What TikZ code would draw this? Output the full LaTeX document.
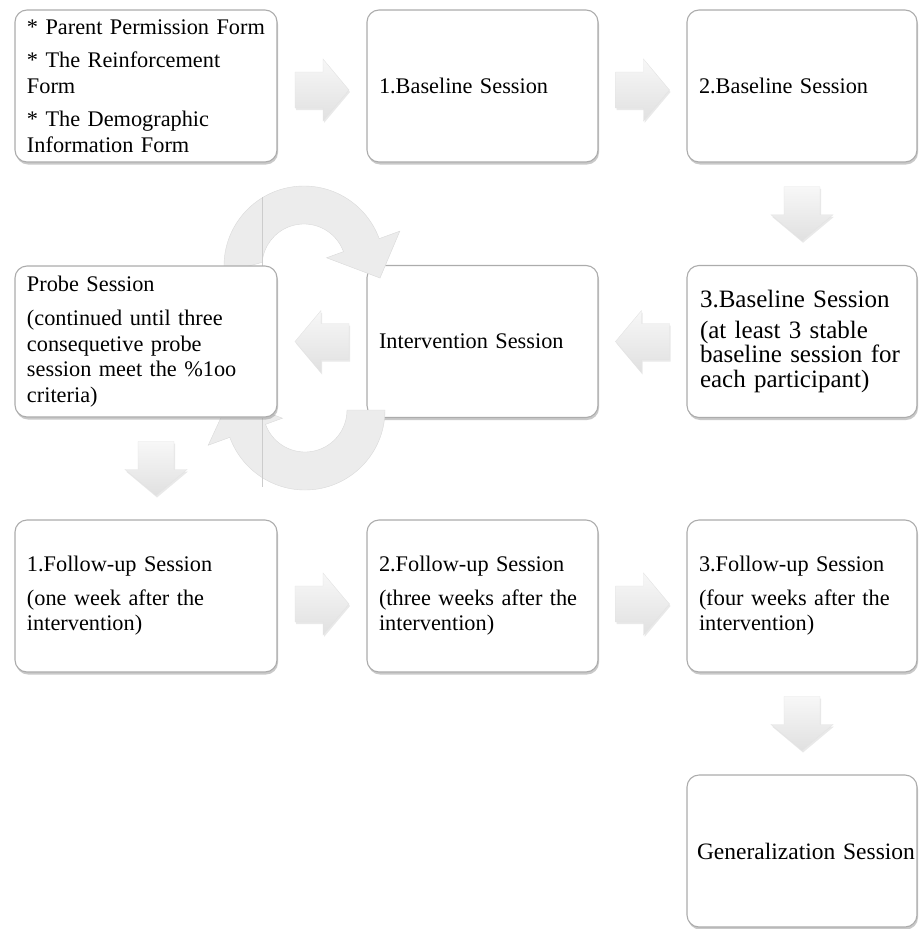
\documentclass[tikz,border=0pt]{standalone}
\usepackage{fontspec}
\setmainfont{Liberation Serif}
\usetikzlibrary{calc,shadows}
\begin{document}
\begin{tikzpicture}[x=1pt,y=-1pt,
  box/.style={draw=gray!65, line width=1.1pt, rounded corners=12pt, fill=white,
    drop shadow={shadow xshift=1pt, shadow yshift=-2.5pt, opacity=0.5, fill=gray!85},
    inner xsep=12pt, inner ysep=0pt, align=left, text=black,
    font=\fontsize{22.3}{25.5}\selectfont},
  lcol/.style={box, text width=238pt, minimum width=262pt},
  mcol/.style={box, text width=207pt, minimum width=231pt},
  rcol/.style={box, text width=206pt, minimum width=230pt},
  rowh/.style={minimum height=152pt},
  arrowfill/.style={top color=gray!6, bottom color=gray!24, draw=gray!22, line width=0.4pt,
    drop shadow={shadow xshift=1pt, shadow yshift=-2pt, opacity=0.25, fill=gray!70}},
  barrow/.pic={\path[arrowfill] (-27,-18) -- (1,-18) -- (1,-31) -- (27,0) -- (1,31) -- (1,18) -- (-27,18) -- cycle;},
  arcfill/.style={fill=gray!15, draw=gray!30, line width=0.4pt},
  seam/.style={draw=gray!40, line width=0.6pt}
]
\useasboundingbox (0,0) rectangle (922,929);

% Row 1
\node[lcol, rowh] (A) at (146,86) {* Parent Permission Form\\[8pt]* The Reinforcement\\Form\\[8pt]* The Demographic\\Information Form};
\node[mcol, rowh] (B1) at (482.5,86) {1.Baseline Session};
\node[rcol, rowh] (B2) at (802,86) {2.Baseline Session};

% Row 2
\node[rcol, rowh, font=\fontsize{25}{24.5}\selectfont, inner xsep=13pt, text width=204pt] (B3) at (802,341.5)
  {3.Baseline Session\\[6pt](at least 3 stable\\baseline session for\\each participant)};
\node[mcol, rowh] (I) at (482.5,341.5) {Intervention Session};

% Row 3
\node[lcol, rowh] (F1) at (146,596) {1.Follow-up Session\\[8pt](one week after the\\intervention)};
\node[mcol, rowh] (F2) at (482.5,596) {2.Follow-up Session\\[8pt](three weeks after the\\intervention)};
\node[rcol, rowh] (F3) at (802,596) {3.Follow-up Session\\[8pt](four weeks after the\\intervention)};

% Row 4
\node[rcol, rowh, font=\fontsize{23.5}{26}\selectfont, inner xsep=10pt, text width=210pt] (G) at (802,851) {\mbox{Generalization Session}};

% circular arrows
\coordinate (T) at (304,266);
\coordinate (Bc) at (305,410);
\path[arcfill] ($(T)+(175:80)$) arc[start angle=175, end angle=340, radius=80]
  -- ($(T)+(340:102)$) -- (380,278) -- ($(T)+(340:24)$) -- ($(T)+(340:42)$)
  arc[start angle=340, end angle=185, radius=42] -- cycle;
\path[arcfill] ($(Bc)+(0:80)$) arc[start angle=0, end angle=160, radius=80]
  -- ($(Bc)+(160:103)$) -- ($(Bc)+(189:76)$) -- ($(Bc)+(160:24)$) -- ($(Bc)+(160:42)$)
  arc[start angle=160, end angle=0, radius=42] -- cycle;
\draw[seam] (262,197) -- (262,266);
\draw[seam] (262,418) -- (262,487);

% Probe box on top of the arcs
\node[lcol, rowh, minimum height=151pt] (P) at (146,341.5) {Probe Session\\[9pt](continued until three\\consequetive probe\\session meet the \%1oo\\criteria)};

% block arrows
\pic at ($($(A.east)!0.5!(B1.west)$)+(0,4)$) {barrow};
\pic at ($($(B1.east)!0.5!(B2.west)$)+(0,4)$) {barrow};
\pic[rotate=-90] at ($(B2.south)!0.5!(B3.north)$) {barrow};
\pic[rotate=180] at ($(B3.west)!0.5!(I.east)$) {barrow};
\pic[rotate=180] at ($(I.west)!0.5!(P.east)$) {barrow};
\pic[rotate=-90] at ($($(P.south)!0.5!(F1.north)$)+(10,0)$) {barrow};
\pic at ($($(F1.east)!0.5!(F2.west)$)+(0,8)$) {barrow};
\pic at ($($(F2.east)!0.5!(F3.west)$)+(0,8)$) {barrow};
\pic[rotate=-90] at ($(F3.south)!0.5!(G.north)$) {barrow};
\end{tikzpicture}
\end{document}
